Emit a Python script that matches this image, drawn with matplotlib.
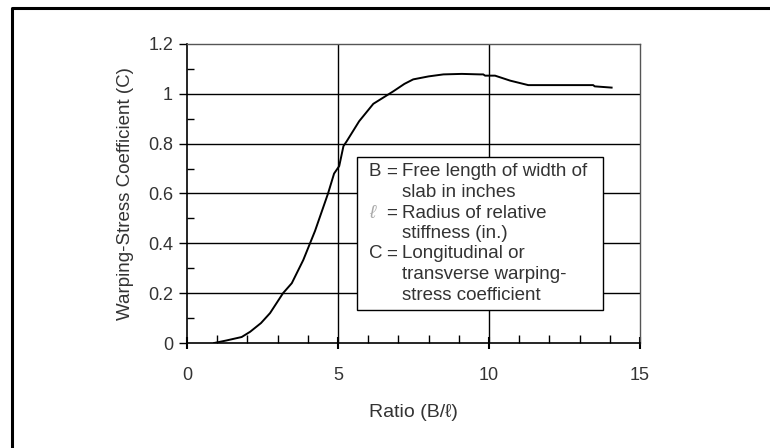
#------------------------------------------------imports---------------------------------------------------------------
import matplotlib
matplotlib.use('Agg')
import matplotlib.pyplot as plt
from matplotlib.lines import Line2D
from matplotlib.patches import Rectangle

#--------------------------------------------------data----------------------------------------------------------------
ratio = [0.9, 1.3, 1.81, 2.09, 2.45, 2.75, 3.18, 3.47, 3.85, 4.24, 4.67, 4.87, 5.04,
         5.18, 5.29, 5.7, 6.17, 6.5, 6.83, 7.2, 7.49, 8.0, 8.49, 9.1, 9.7, 9.81, 9.87,
         10.2, 10.7, 11.3, 12.4, 13.45, 13.5, 14.06]
coef = [0.0, 0.01, 0.024, 0.045, 0.08, 0.12, 0.2, 0.24, 0.333, 0.45, 0.60, 0.68, 0.71,
        0.79, 0.81, 0.89, 0.96, 0.985, 1.01, 1.04, 1.058, 1.07, 1.078, 1.08, 1.078, 1.078, 1.073,
        1.073, 1.053, 1.035, 1.035, 1.035, 1.03, 1.025]

x_ticks = [0, 5, 10, 15]
y_ticks = [0, 0.2, 0.4, 0.6, 0.8, 1.0, 1.2]
y_labels = ['0', '0.2', '0.4', '0.6', '0.8', '1', '1.2']

legend_lines = [
    ('B', ['Free length of width of', 'slab in inches']),
    ('\u2113', ['Radius of relative', 'stiffness (in.)']),
    ('C', ['Longitudinal or', 'transverse warping-', 'stress coefficient']),
]

#-------------------------------------------------settings-------------------------------------------------------------
FONT = ['Liberation Sans', 'DejaVu Sans']
TXT = '#333333'
plt.rcParams['font.family'] = FONT

W, H = 770, 448
fig = plt.figure(figsize=(W / 100, H / 100), dpi=100)
fig.patch.set_facecolor('white')

# axes placed in pixel terms
x0, x1, y0, y1 = 187, 640, 44, 343
ax = fig.add_axes([x0 / W, 1 - y1 / H, (x1 - x0) / W, (y1 - y0) / H])

#---------------------------------------------------plotting-----------------------------------------------------------
ax.plot(ratio, coef, color='black', lw=1.4, zorder=3)

ax.set_xlim(0, 15)
ax.set_ylim(0, 1.2)
ax.set_xticks(x_ticks)
ax.set_xticks(range(16), minor=True)
ax.set_yticks(y_ticks)
ax.set_yticklabels(y_labels)
ax.set_yticks([i / 10 for i in range(13)], minor=True)

for y in y_ticks[1:-1]:
    ax.axhline(y, color='black', lw=1.0, zorder=1)
for x in x_ticks[1:-1]:
    ax.axvline(x, color='black', lw=1.0, zorder=1)

for s in ['top', 'right']:
    ax.spines[s].set_color('#555555')
    ax.spines[s].set_linewidth(1.0)
for s in ['left', 'bottom']:
    ax.spines[s].set_color('black')
    ax.spines[s].set_linewidth(1.2)

ax.tick_params(axis='y', which='major', direction='out', length=6, width=1.0,
               labelsize=13, labelcolor=TXT, pad=4)
ax.tick_params(axis='y', which='minor', direction='in', length=5, width=1.0)
ax.tick_params(axis='x', which='major', direction='inout', length=9, width=1.5,
               labelsize=13, labelcolor=TXT, pad=13)
ax.tick_params(axis='x', which='minor', direction='in', length=6, width=1.0)

ax.set_xlabel('Ratio (B/\u2113)', fontsize=14, color=TXT, labelpad=14)
ax.set_ylabel('Warping-Stress Coefficient (C)', fontsize=13.5, color=TXT, labelpad=10)

#---------------------------------------------------legend box---------------------------------------------------------
bx0, bx1, by0, by1 = 357, 603, 157, 310
fig.patches.append(Rectangle((bx0 / W, 1 - by1 / H), (bx1 - bx0) / W, (by1 - by0) / H,
                             transform=fig.transFigure, facecolor='white',
                             edgecolor='black', lw=1.0, zorder=5))
line_y = 172
for sym, rows in legend_lines:
    col = '#aaaaaa' if sym == '\u2113' else TXT
    fig.text(369 / W, 1 - line_y / H, sym, fontsize=13.5, color=col, va='center',
             ha='left', style='italic' if sym == '\u2113' else 'normal', zorder=6)
    fig.text(386 / W, 1 - line_y / H, '=', fontsize=13.5, color=TXT, va='center', zorder=6)
    for r in rows:
        fig.text(402 / W, 1 - line_y / H, r, fontsize=13.5, color=TXT, va='center', zorder=6)
        line_y += 20.5

#---------------------------------------------------outer frame--------------------------------------------------------
fig.add_artist(Line2D([12 / W, 12 / W, 1], [0, 1 - 8 / H, 1 - 8 / H],
                      transform=fig.transFigure, color='black', lw=2.2))

#----------------------------------------------------saving------------------------------------------------------------
fig.savefig('out.png', dpi=100)
